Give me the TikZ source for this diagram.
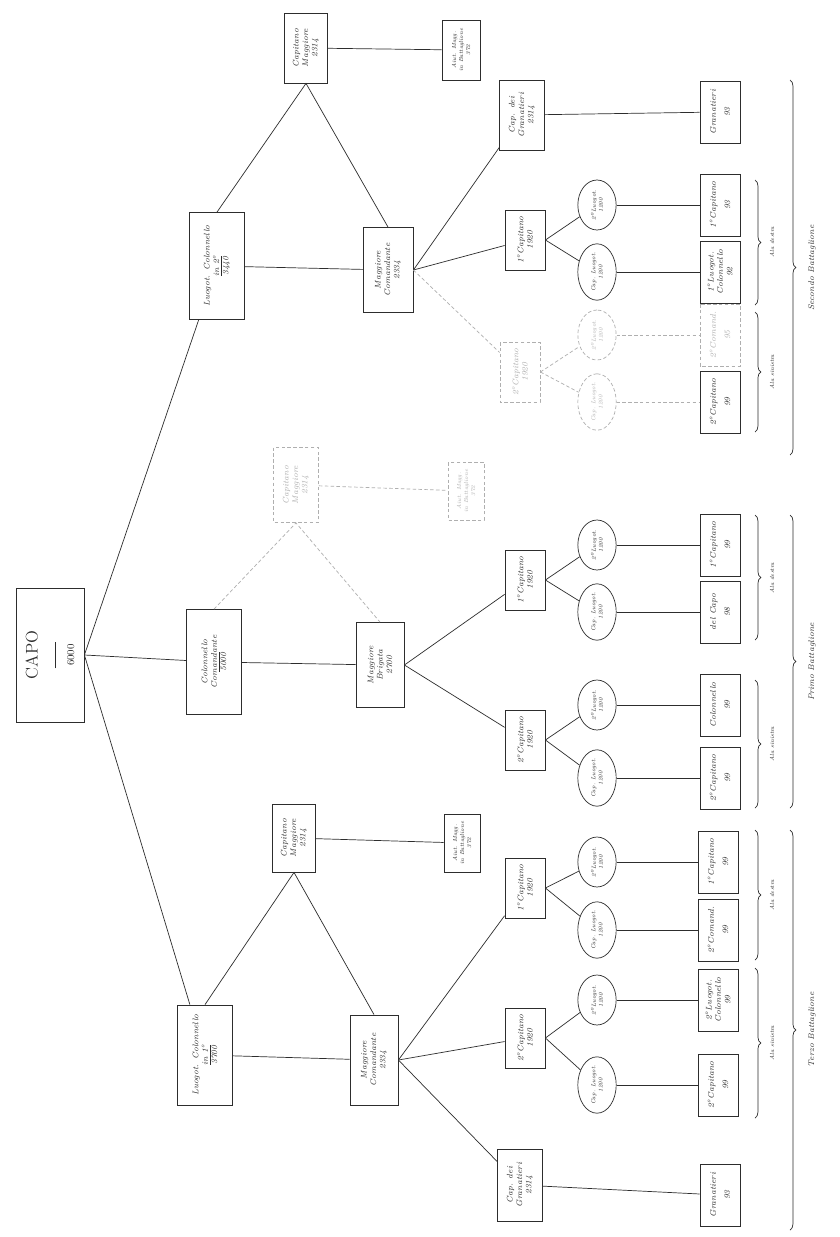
\documentclass[tikz,border=0pt]{standalone}
\usepackage{tikz}
\usetikzlibrary{shapes.geometric, decorations.pathreplacing, calc}
\definecolor{ink}{RGB}{45,45,45}
\definecolor{pale}{RGB}{175,175,175}
\newcommand{\tot}[1]{$\overline{\mbox{#1}}$}
\newcommand{\pr}{1\textsuperscript{o}}
\newcommand{\se}{2\textsuperscript{o}}

\begin{document}
\begin{tikzpicture}[
  x=0.3mm, y=-0.3mm,
  font=\scriptsize\itshape,
  box/.style={draw=ink, rotate=90, align=center, inner sep=1pt, text=ink, line width=.7pt},
  sz/.style 2 args={minimum height=#1*0.3mm, minimum width=#2*0.3mm},
  ov/.style={draw=ink, ellipse, rotate=90, align=center, inner sep=0pt, text=ink,
             line width=.6pt, minimum width=15mm, minimum height=11.5mm, font=\tiny\itshape},
  faint/.style={draw=pale, densely dashed, text=pale},
  ln/.style={draw=ink, line width=.6pt},
  fl/.style={draw=pale, densely dashed, line width=.6pt},
  br/.style={draw=ink, line width=.6pt, decorate, decoration={brace, amplitude=5pt}},
  lbl/.style={rotate=90, font=\tiny\itshape, text=ink}
]
\useasboundingbox[fill=white] (0,0) rectangle (839,1237);

% ---------- capo ----------
\node[box, sz={68}{134}, font=\upshape\Large] (capo) at (50,655)
  {CAPO\\[-3pt]\rule{8mm}{.4pt}\\[-2pt]{\small 6000}};

% ---------- primo livello ----------
\node[box, sz={55}{107}] (lc2) at (217,266) {Luogot. Colonnello\\ in 2\textsuperscript{o}\\ \tot{3440}};
\node[box, sz={55}{105}] (cb)  at (214,662) {Colonnello\\ Comandante\\ \tot{5000}};
\node[box, sz={55}{100}] (lc1) at (205,1055) {Luogot. Colonnello\\ in \pr\\ \tot{3700}};

\draw[ln] (capo.south) -- (lc2);
\draw[ln] (capo.south) -- (cb);
\draw[ln] (capo.south) -- (lc1);

% ---------- secondo battaglione ----------
\node[box, sz={43}{70}] (cm2) at (306,48) {Capitano\\ Maggiore\\ 2314};
\node[box, sz={38}{60}, font=\tiny\itshape] (am2) at (461,50) {Aiut. Magg.\\ in Battaglione\\ 372};
\node[box, sz={50}{85}] (mc2) at (388,270) {Maggiore\\ Comandante\\ 2334};
\node[box, sz={45}{70}] (cg2) at (522,115) {Cap. dei\\ Granatieri\\ 2314};
\node[box, sz={40}{60}] (c2a) at (525,240) {\pr Capitano\\ 1920};
\node[box, faint, sz={40}{60}] (c2b) at (520,372) {\se Capitano\\ 1920};
\node[ov] (o2a) at (597,205) {\se Luogot.\\ 1200};
\node[ov] (o2b) at (597,272) {Cap. Luogot.\\ 1200};
\node[ov, faint] (o2c) at (597,335) {\se Luogot.\\ 1200};
\node[ov, faint] (o2d) at (597,402) {Cap. Luogot.\\ 1200};
\node[box, sz={40}{62}] (g2) at (720,112) {Granatieri\\[4pt] 93};
\node[box, sz={40}{62}] (b2a) at (720,205) {\pr Capitano\\[4pt] 93};
\node[box, sz={40}{62}] (b2b) at (720,272) {\pr Luogot.\\ Colonnello\\ 92};
\node[box, faint, sz={40}{62}] (b2c) at (720,335) {\se Comand.\\[4pt] 95};
\node[box, sz={40}{62}] (b2d) at (720,402) {\se Capitano\\[4pt] 99};

\draw[ln] (lc2.east) -- (cm2.west) -- (mc2.east);
\draw[ln] (cm2) -- (am2);
\draw[ln] (lc2) -- (mc2);
\draw[ln] (mc2.south) -- (cg2);
\draw[ln] (mc2.south) -- (c2a);
\draw[fl] (mc2.south) -- (c2b);
\draw[ln] (c2a.south) -- (o2a);
\draw[ln] (c2a.south) -- (o2b);
\draw[fl] (c2b.south) -- (o2c);
\draw[fl] (c2b.south) -- (o2d);
\draw[ln] (cg2) -- (g2);
\draw[ln] (o2a) -- (b2a);
\draw[ln] (o2b) -- (b2b);
\draw[fl] (o2c) -- (b2c);
\draw[fl] (o2d) -- (b2d);

% ---------- primo battaglione ----------
\node[box, faint, sz={45}{75}] (cm1) at (296,485) {Capitano\\ Maggiore\\ 2314};
\node[box, faint, sz={36}{58}, font=\tiny\itshape] (am1) at (466,491) {Aiut. Magg.\\ in Battaglione\\ 372};
\node[box, sz={48}{85}] (mb) at (380,665) {Maggiore\\ Brigata\\ 2700};
\node[box, sz={40}{60}] (c1a) at (525,580) {\pr Capitano\\ 1920};
\node[box, sz={40}{60}] (c1b) at (525,740) {\se Capitano\\ 1920};
\node[ov] (o1a) at (597,545) {\se Luogot.\\ 1200};
\node[ov] (o1b) at (597,612) {Cap. Luogot.\\ 1200};
\node[ov] (o1c) at (597,705) {\se Luogot.\\ 1200};
\node[ov] (o1d) at (597,778) {Cap. Luogot.\\ 1200};
\node[box, sz={40}{62}] (b1a) at (720,545) {\pr Capitano\\[4pt] 99};
\node[box, sz={40}{62}] (b1b) at (720,612) {del Capo\\[4pt] 98};
\node[box, sz={40}{62}] (b1c) at (720,705) {Colonnello\\[4pt] 99};
\node[box, sz={40}{62}] (b1d) at (720,778) {\se Capitano\\[4pt] 99};

\draw[fl] (cb.east) -- (cm1.west) -- (mb.east);
\draw[fl] (cm1) -- (am1);
\draw[ln] (cb) -- (mb);
\draw[ln] (mb.south) -- (c1a);
\draw[ln] (mb.south) -- (c1b);
\draw[ln] (c1a.south) -- (o1a);
\draw[ln] (c1a.south) -- (o1b);
\draw[ln] (c1b.south) -- (o1c);
\draw[ln] (c1b.south) -- (o1d);
\draw[ln] (o1a) -- (b1a);
\draw[ln] (o1b) -- (b1b);
\draw[ln] (o1c) -- (b1c);
\draw[ln] (o1d) -- (b1d);

% ---------- terzo battaglione ----------
\node[box, sz={43}{68}] (cm3) at (294,838) {Capitano\\ Maggiore\\ 2314};
\node[box, sz={36}{58}, font=\tiny\itshape] (am3) at (462,843) {Aiut. Magg.\\ in Battaglione\\ 372};
\node[box, sz={48}{90}] (mc3) at (374,1060) {Maggiore\\ Comandante\\ 2334};
\node[box, sz={40}{60}] (c3a) at (525,888) {\pr Capitano\\ 1920};
\node[box, sz={40}{60}] (c3b) at (525,1038) {\se Capitano\\ 1920};
\node[box, sz={45}{72}] (cg3) at (520,1185) {Cap. dei\\ Granatieri\\ 2314};
\node[ov] (o3a) at (597,862) {\se Luogot.\\ 1200};
\node[ov] (o3b) at (597,930) {Cap. Luogot.\\ 1200};
\node[ov] (o3c) at (597,1000) {\se Luogot.\\ 1200};
\node[ov] (o3d) at (597,1085) {Cap. Luogot.\\ 1200};
\node[box, sz={40}{62}] (b3a) at (718,862) {\pr Capitano\\[4pt] 99};
\node[box, sz={40}{62}] (b3b) at (718,930) {\se Comand.\\[4pt] 99};
\node[box, sz={40}{62}] (b3c) at (718,1000) {\se Luogot.\\ Colonnello\\ 99};
\node[box, sz={40}{62}] (b3d) at (718,1085) {\se Capitano\\[4pt] 99};
\node[box, sz={40}{62}] (g3) at (720,1195) {Granatieri\\[4pt] 93};

\draw[ln] (lc1.east) -- (cm3.west) -- (mc3.east);
\draw[ln] (cm3) -- (am3);
\draw[ln] (lc1) -- (mc3);
\draw[ln] (mc3.south) -- (c3a);
\draw[ln] (mc3.south) -- (c3b);
\draw[ln] (mc3.south) -- (cg3);
\draw[ln] (c3a.south) -- (o3a);
\draw[ln] (c3a.south) -- (o3b);
\draw[ln] (c3b.south) -- (o3c);
\draw[ln] (c3b.south) -- (o3d);
\draw[ln] (o3a) -- (b3a);
\draw[ln] (o3b) -- (b3b);
\draw[ln] (o3c) -- (b3c);
\draw[ln] (o3d) -- (b3d);
\draw[ln] (cg3) -- (g3);

% ---------- graffe ----------
\draw[br] (755,180) -- (755,305);
\draw[br] (755,312) -- (755,432);
\draw[br] (790,80) -- (790,455);
\node[lbl] (ad2) at (772,242) {Ala destra};
\node[lbl] (as2) at (772,372) {Ala sinistra};
\node[lbl, font=\scriptsize\itshape] (sb) at (812,268) {Secondo Battaglione};

\draw[br] (755,515) -- (755,640);
\draw[br] (755,680) -- (755,808);
\draw[br] (790,515) -- (790,808);
\node[lbl] (ad1) at (772,578) {Ala destra};
\node[lbl] (as1) at (772,744) {Ala sinistra};
\node[lbl, font=\scriptsize\itshape] (pb) at (812,662) {Primo Battaglione};

\draw[br] (755,830) -- (755,960);
\draw[br] (755,968) -- (755,1118);
\draw[br] (790,830) -- (790,1230);
\node[lbl] (ad3) at (772,895) {Ala destra};
\node[lbl] (as3) at (772,1043) {Ala sinistra};
\node[lbl, font=\scriptsize\itshape] (tb) at (812,1030) {Terzo Battaglione};

\end{tikzpicture}
\end{document}
